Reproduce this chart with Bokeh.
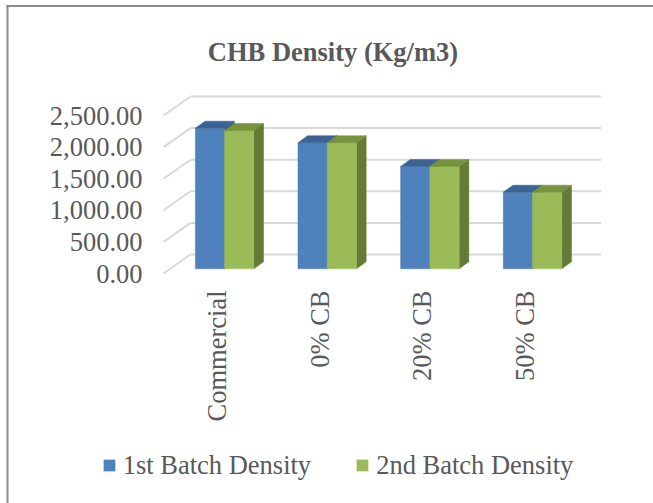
import math
from bokeh.plotting import figure
from bokeh.models import (Range1d, FixedTicker, NumeralTickFormatter, LinearAxis,
                          Legend, LegendItem, Label)
from bokeh.embed import file_html
from bokeh.resources import INLINE

# ---- data ----
categories = ["Commercial", "0% CB", "20% CB", "50% CB"]
series_names = ["1st Batch Density", "2nd Batch Density"]
batch1 = [2225, 1995, 1620, 1212]
batch2 = [2188, 1995, 1620, 1212]
y_ticks = [0, 500, 1000, 1500, 2000, 2500]
title_text = "CHB Density (Kg/m3)"

# ---- styling / geometry (pixels on the canvas) ----
FONT = "Liberation Serif"
FS = "26.5px"
TXT = "#595959"
GRID = "#d9d9d9"
BORDER = "#8c8c8c"
FRONT = ["#4f81bd", "#9bbb59"]
TOPC = ["#3b6393", "#77933c"]
SIDE = ["#37597f", "#647a35"]

W, H = 653, 503
SX = 102.65          # px per category
SY = 0.0632          # px per value unit
X0, Y0 = 163, 273    # canvas position of the front origin


def dx(px):
    return (px - X0) / SX


def dy(py):
    return (Y0 - py) / SY


WALL_DX = 27 / SX    # depth of floor, data units
WALL_DY = 19 / SY
BAR_DX = 9.7 / SX
BAR_DY = 7 / SY
BAR_BASE = 4.7 / SY
BAR_X0 = 0.31
BAR_W = 0.285
LABEL_DX = 0.52

p = figure(width=W, height=H, output_backend="svg", toolbar_location=None,
           x_range=Range1d(dx(0), dx(W)), y_range=Range1d(dy(H), dy(0)),
           min_border=0, x_axis_location=None, y_axis_location=None)
p.outline_line_color = None
p.xgrid.visible = False
p.ygrid.visible = False

# chart border (top and left visible)
p.segment(x0=[dx(6), dx(7)], y0=[dy(5.5), dy(5)], x1=[dx(W + 5), dx(7)], y1=[dy(5.5), dy(H + 5)],
          line_color=BORDER, line_width=2)

# title
p.add_layout(Label(x=dx(332.5), y=dy(51.5), text=title_text, text_align="center",
                   text_baseline="alphabetic", text_font=FONT, text_font_size=FS,
                   text_font_style="bold", text_color=TXT))

# y axis (front plane)
ya = LinearAxis(ticker=FixedTicker(ticks=y_ticks),
                formatter=NumeralTickFormatter(format="0,0.00"),
                fixed_location=dx(150))
ya.axis_line_color = None
ya.major_tick_line_color = None
ya.minor_tick_line_color = None
ya.major_tick_out = 0
ya.major_tick_in = 0
ya.major_label_standoff = 8
ya.major_label_text_font = FONT
ya.major_label_text_font_size = FS
ya.major_label_text_color = TXT
p.add_layout(ya, "left")

# x axis (category labels, rotated to read upwards)
n = len(categories)
x_ticks = [i + LABEL_DX for i in range(n)]
xa = LinearAxis(ticker=FixedTicker(ticks=x_ticks),
                major_label_overrides={t: c for t, c in zip(x_ticks, categories)},
                fixed_location=dy(290), major_label_orientation=math.pi / 2)
xa.axis_line_color = None
xa.major_tick_line_color = None
xa.minor_tick_line_color = None
xa.major_tick_out = 0
xa.major_tick_in = 0
xa.major_label_standoff = 0
xa.major_label_text_font = FONT
xa.major_label_text_font_size = FS
xa.major_label_text_color = TXT
p.add_layout(xa, "below")

# walls: diagonal side lines and back grid lines
p.segment(x0=[0] * len(y_ticks), y0=y_ticks,
          x1=[WALL_DX] * len(y_ticks), y1=[t + WALL_DY for t in y_ticks],
          line_color=GRID, line_width=2)
p.segment(x0=[WALL_DX] * len(y_ticks), y0=[t + WALL_DY for t in y_ticks],
          x1=[n + WALL_DX] * len(y_ticks), y1=[t + WALL_DY for t in y_ticks],
          line_color=GRID, line_width=2)

# bars
front_renderers = []
for s, vals in enumerate([batch1, batch2]):
    lefts = [i + BAR_X0 + s * BAR_W for i in range(n)]
    rights = [l + BAR_W for l in lefts]
    tops = [BAR_BASE + v for v in vals]
    bottoms = [BAR_BASE] * n
    side_xs = [[r, r + BAR_DX, r + BAR_DX, r] for r in rights]
    side_ys = [[b, b + BAR_DY, t + BAR_DY, t] for b, t in zip(bottoms, tops)]
    top_xs = [[l, l + BAR_DX, r + BAR_DX, r] for l, r in zip(lefts, rights)]
    top_ys = [[t, t + BAR_DY, t + BAR_DY, t] for t in tops]
    p.patches(xs=side_xs, ys=side_ys, fill_color=SIDE[s], line_color=SIDE[s], line_width=0.5)
    fr = p.quad(left=lefts, right=rights, bottom=bottoms, top=tops,
                fill_color=FRONT[s], line_color=FRONT[s], line_width=0.5)
    p.patches(xs=top_xs, ys=top_ys, fill_color=TOPC[s], line_color=TOPC[s], line_width=0.5)
    front_renderers.append(fr)

legend = Legend(items=[LegendItem(label=series_names[k], renderers=[front_renderers[k]])
                       for k in range(2)],
                orientation="horizontal", location=(101.7, H - 480.5),
                glyph_width=14, glyph_height=14, label_standoff=7, spacing=44,
                padding=0, margin=0, border_line_color=None, background_fill_alpha=0,
                label_text_font=FONT, label_text_font_size=FS, label_text_color=TXT)
p.add_layout(legend)

open("out.html", "w").write(file_html(p, INLINE))
